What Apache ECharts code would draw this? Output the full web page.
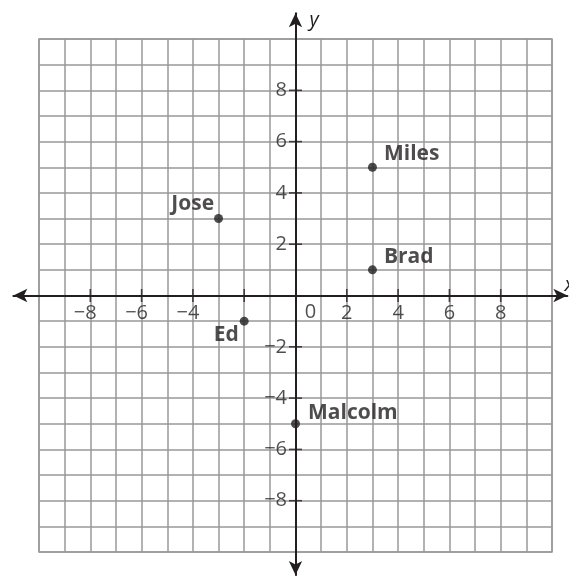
<!DOCTYPE html>
<html>
<head>
<meta charset="utf-8">
<script src="https://cdn.jsdelivr.net/npm/echarts@6/dist/echarts.min.js"></script>
<style>
  html, body { margin: 0; padding: 0; background: #fff; }
  #chart { width: 569px; height: 576px; }
</style>
</head>
<body>
<div id="chart"></div>
<script>
  // points on the plane
  const names = ['Miles', 'Brad', 'Jose', 'Ed', 'Malcolm'];
  const xs = [3, 3, -3, -2, 0];
  const ys = [5, 1, 3, -1, -5];

  // axis ticks and which of them carry a number
  const xTicks = [-8, -6, -4, -2, 2, 4, 6, 8];
  const xTickLabels = [-8, -6, -4, 2, 4, 6, 8];
  const yTicks = [-8, -6, -4, -2, 2, 4, 6, 8];
  const yTickLabels = [-8, -6, -4, -2, 2, 4, 6, 8];

  const ink = '#231f20';
  const gridGray = '#999999';
  const font = 'Open Sans';

  // where each name sits next to its dot
  const nameSpot = {
    Miles: { position: 'right', offset: [7, -13] },
    Brad: { position: 'right', offset: [7, -13] },
    Jose: { position: 'left', offset: [0, -15] },
    Ed: { position: 'left', offset: [-1, 14] },
    Malcolm: { position: 'right', offset: [8, -11] }
  };

  function num(v) {
    return v < 0 ? '\u2212' + (-v) : String(v);
  }

  const chart = echarts.init(document.getElementById('chart'));

  const unit = 513 / 20;
  const origin = 39 + 10 * unit;
  // the arrowed axes run a bit past the squared paper
  const axMin = -11, axMaxX = 10.6, axMinY = -10.9, axMaxY = 11;

  chart.setOption({
    animation: false,
    grid: [
      {
        left: 39, top: 39, width: 513, height: 513, outerBoundsMode: 'none',
        show: true, borderColor: gridGray, borderWidth: 1.5
      },
      {
        left: origin + axMin * unit, width: (axMaxX - axMin) * unit,
        top: origin - axMaxY * unit, height: (axMaxY - axMinY) * unit,
        outerBoundsMode: 'none'
      }
    ],
    xAxis: [
      {
        gridIndex: 0, type: 'value', min: -10, max: 10, interval: 1,
        axisLine: { show: false }, axisTick: { show: false }, axisLabel: { show: false },
        splitLine: { show: true, lineStyle: { color: gridGray, width: 1.5 } }
      },
      {
        gridIndex: 1, type: 'value', min: axMin, max: axMaxX,
        axisLine: {
          show: true, onZero: true, symbol: ['arrow', 'arrow'], symbolSize: [10, 14],
          lineStyle: { color: ink, width: 2 }
        },
        axisTick: { show: false }, axisLabel: { show: false }, splitLine: { show: false },
        name: 'x', nameLocation: 'end', nameGap: -3,
        nameTextStyle: { color: ink, fontFamily: font, fontStyle: 'italic', fontSize: 20, align: 'left', verticalAlign: 'bottom' }
      }
    ],
    yAxis: [
      {
        gridIndex: 0, type: 'value', min: -10, max: 10, interval: 1,
        axisLine: { show: false }, axisTick: { show: false }, axisLabel: { show: false },
        splitLine: { show: true, lineStyle: { color: gridGray, width: 1.5 } }
      },
      {
        gridIndex: 1, type: 'value', min: axMinY, max: axMaxY,
        axisLine: {
          show: true, onZero: true, symbol: ['arrow', 'arrow'], symbolSize: [10, 14],
          lineStyle: { color: ink, width: 2 }
        },
        axisTick: { show: false }, axisLabel: { show: false }, splitLine: { show: false },
        name: 'y', nameLocation: 'end', nameGap: -7,
        nameTextStyle: { color: ink, fontFamily: font, fontStyle: 'italic', fontSize: 20, align: 'left', verticalAlign: 'middle', padding: [0, 0, 0, 14] }
      }
    ],
    series: [
      {
        // x-axis ticks with their numbers
        type: 'scatter', xAxisIndex: 1, yAxisIndex: 1, silent: true,
        symbol: 'rect', symbolSize: [1.6, 13],
        itemStyle: { color: ink },
        data: xTicks.map(v => ({ value: [v, 0], label: { offset: [v < 0 ? -5 : 0, 18] } })),
        label: {
          show: true, position: 'inside', color: ink, fontFamily: font, fontSize: 20,
          formatter: p => xTickLabels.includes(p.value[0]) ? num(p.value[0]) : ''
        }
      },
      {
        // y-axis ticks with their numbers
        type: 'scatter', xAxisIndex: 1, yAxisIndex: 1, silent: true,
        symbol: 'rect', symbolSize: [13, 1.6],
        itemStyle: { color: ink },
        data: yTicks.map(v => [0, v]),
        label: {
          show: true, position: 'left', distance: 2, color: ink, fontFamily: font, fontSize: 20,
          formatter: p => yTickLabels.includes(p.value[1]) ? num(p.value[1]) : ''
        }
      },
      {
        // the origin's 0
        type: 'scatter', xAxisIndex: 1, yAxisIndex: 1, silent: true,
        symbolSize: 0,
        data: [[0, 0]],
        label: {
          show: true, position: 'inside', offset: [15, 17], color: ink, fontFamily: font, fontSize: 20,
          formatter: '0'
        }
      },
      {
        type: 'scatter', xAxisIndex: 1, yAxisIndex: 1, silent: true,
        symbol: 'circle', symbolSize: 9,
        itemStyle: { color: ink },
        data: names.map((n, i) => ({
          name: n,
          value: [xs[i], ys[i]],
          label: { position: nameSpot[n].position, offset: nameSpot[n].offset }
        })),
        label: {
          show: true, distance: 0, color: ink, fontFamily: font, fontWeight: 'bold', fontSize: 21,
          formatter: p => p.name
        }
      }
    ]
  });
</script>
</body>
</html>
